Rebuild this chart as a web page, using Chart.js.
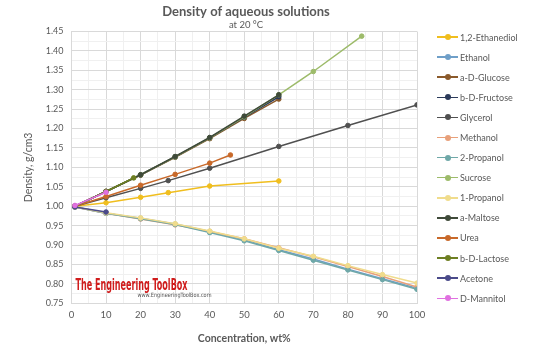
<!DOCTYPE html>
<html>
<head>
<meta charset="utf-8">
<script src="https://cdn.jsdelivr.net/npm/chart.js@4.4.1/dist/chart.umd.min.js"></script>
<style>
  html, body { margin: 0; padding: 0; background: #fff; }
  #wrap { position: relative; width: 540px; height: 353px; }
  #legend { position: absolute; left: 437px; top: 27px; font: 9px Lato, "Open Sans", sans-serif; color: #595959; }
  .item { height: 20.1px; display: flex; align-items: center; white-space: nowrap; }
  .mk { position: relative; width: 21px; height: 1.5px; margin-right: 2px; }
  .mk i { position: absolute; left: 8px; top: -2.25px; width: 6px; height: 6px; border-radius: 50%; }
</style>
</head>
<body>
<div id="wrap">
  <canvas id="densityChart" width="540" height="353"></canvas>
  <div id="legend"></div>
</div>
<script>
    // concentrations (wt%) and densities (g/cm3)
    const alcConc      = [1, 10, 20, 30, 40, 50, 60, 70, 80, 90, 100];
    const ethanol      = [0.998, 0.982, 0.969, 0.954, 0.935, 0.914, 0.888, 0.864, 0.838, 0.813, 0.789];
    const methanol     = [0.998, 0.982, 0.967, 0.952, 0.935, 0.916, 0.893, 0.870, 0.845, 0.819, 0.792];
    const propanol2    = [0.998, 0.982, 0.968, 0.953, 0.932, 0.911, 0.886, 0.861, 0.836, 0.811, 0.786];
    const propanol1    = [0.998, 0.983, 0.970, 0.955, 0.936, 0.916, 0.892, 0.871, 0.847, 0.824, 0.802];

    const sugarConc    = [1, 10, 20, 30, 40, 50, 60];
    const glucose      = [1.000, 1.038, 1.080, 1.126, 1.174, 1.226, 1.276];
    const fructose     = [1.000, 1.038, 1.081, 1.127, 1.176, 1.229, 1.282];
    const maltose      = [1.000, 1.038, 1.081, 1.128, 1.177, 1.232, 1.287];

    const sucroseConc  = [1, 10, 20, 30, 40, 50, 60, 70, 84];
    const sucrose      = [1.000, 1.038, 1.081, 1.127, 1.176, 1.230, 1.287, 1.347, 1.438];

    const lactoseConc  = [1, 10, 18];
    const lactose      = [1.000, 1.038, 1.073];

    const glycerolConc = [1, 10, 20, 28, 40, 60, 80, 100];
    const glycerol     = [1.000, 1.022, 1.046, 1.066, 1.098, 1.154, 1.208, 1.261];

    const ethanediolConc = [1, 10, 20, 28, 40, 60];
    const ethanediol     = [1.000, 1.009, 1.023, 1.035, 1.052, 1.065];

    const ureaConc     = [1, 10, 20, 30, 40, 46];
    const urea         = [1.000, 1.025, 1.054, 1.082, 1.111, 1.132];

    const shortConc    = [1, 10];
    const acetone      = [0.998, 0.985];
    const mannitol     = [1.002, 1.036];

    const series = [
        { name: '1,2-Ethanediol', xs: ethanediolConc, ys: ethanediol, color: '#f0be1e' },
        { name: 'Ethanol',        xs: alcConc,        ys: ethanol,    color: '#6f9fc8' },
        { name: 'a-D-Glucose',    xs: sugarConc,      ys: glucose,    color: '#8b5a2b' },
        { name: 'b-D-Fructose',   xs: sugarConc,      ys: fructose,   color: '#2b3a5a' },
        { name: 'Glycerol',       xs: glycerolConc,   ys: glycerol,   color: '#505050' },
        { name: 'Methanol',       xs: alcConc,        ys: methanol,   color: '#e8a07a' },
        { name: '2-Propanol',     xs: alcConc,        ys: propanol2,  color: '#6fa8a8' },
        { name: 'Sucrose',        xs: sucroseConc,    ys: sucrose,    color: '#9dbb6a' },
        { name: '1-Propanol',     xs: alcConc,        ys: propanol1,  color: '#f0dc8c' },
        { name: 'a-Maltose',      xs: sugarConc,      ys: maltose,    color: '#3f4a3a' },
        { name: 'Urea',           xs: ureaConc,       ys: urea,       color: '#c8692a' },
        { name: 'b-D-Lactose',    xs: lactoseConc,    ys: lactose,    color: '#6e7f22' },
        { name: 'Acetone',        xs: shortConc,      ys: acetone,    color: '#4a4a8a' },
        { name: 'D-Mannitol',     xs: shortConc,      ys: mannitol,   color: '#e070e0' }
    ];

    const fontFam = 'Lato, "Open Sans", sans-serif';
    Chart.defaults.font.family = fontFam;
    Chart.defaults.color = '#595959';

    const datasets = series.map((s, i) => ({
        label: s.name,
        data: s.xs.map((x, j) => ({ x: x, y: s.ys[j] })),
        borderColor: s.color,
        backgroundColor: s.color,
        pointBackgroundColor: s.color,
        pointBorderColor: s.color,
        borderWidth: 1.5,
        pointRadius: 2.3,
        pointBorderWidth: 1,
        order: series.length - i
    }));

    // red site watermark in the lower left of the plot
    const watermark = {
        id: 'watermark',
        beforeDatasetsDraw(chart) {
            const a = chart.chartArea;
            const ctx = chart.ctx;
            ctx.save();
            ctx.textBaseline = 'alphabetic';
            ctx.fillStyle = '#d01c1c';
            ctx.font = 'bold 16px "Liberation Sans Narrow", "DejaVu Sans Condensed", sans-serif';
            ctx.fillText('The Engineering ToolBox', a.left + 4, a.bottom - 13, 112);
            ctx.fillStyle = '#555';
            ctx.font = '6px "DejaVu Sans Condensed", sans-serif';
            ctx.fillText('www.EngineeringToolBox.com', a.left + 66, a.bottom - 6, 74);
            ctx.restore();
        }
    };

    const gridColor = ctx => (ctx.tick && ctx.tick.major) ? '#d9d9d9' : '#f0f0f0';

    const chart = new Chart(document.getElementById('densityChart'), {
        type: 'line',
        data: { datasets: datasets },
        plugins: [watermark],
        options: {
            responsive: false,
            animation: false,
            layout: { padding: { left: 0, right: 48, top: 0, bottom: 0 } },
            plugins: {
                legend: { display: false },
                tooltip: { enabled: false },
                title: {
                    display: true,
                    text: 'Density of aqueous solutions',
                    font: { size: 13, weight: 'bold' },
                    color: '#595959',
                    padding: { top: 4, bottom: 0 }
                },
                subtitle: {
                    display: true,
                    text: 'at 20 °C',
                    font: { size: 9.5 },
                    color: '#595959',
                    padding: { top: 0, bottom: 0.5 }
                }
            },
            scales: {
                x: {
                    type: 'linear',
                    min: 0,
                    max: 100,
                    afterFit: s => { s.height = 49.7; },
                    afterTickToLabelConversion: s => { s.ticks.forEach(t => { t.major = t.value % 10 === 0; }); },
                    ticks: {
                        stepSize: 5,
                        autoSkip: false,
                        maxRotation: 0,
                        padding: 6,
                        font: { size: 9.5 },
                        callback: v => (v % 10 === 0 ? v : '')
                    },
                    grid: { color: gridColor, drawTicks: false },
                    border: { color: '#d9d9d9' },
                    title: {
                        display: true,
                        text: 'Concentration, wt%',
                        font: { size: 10.5, weight: 'bold' },
                        color: '#595959',
                        padding: { top: 0, bottom: 8 }
                    }
                },
                y: {
                    min: 0.75,
                    max: 1.45,
                    afterFit: s => { s.width = 71.5; },
                    afterTickToLabelConversion: s => { s.ticks.forEach(t => { t.major = Math.round(t.value * 1000) % 50 === 0; }); },
                    ticks: {
                        stepSize: 0.025,
                        autoSkip: false,
                        padding: 8,
                        font: { size: 9 },
                        callback: v => (Math.round(v * 1000) % 50 === 0 ? v.toFixed(2) : '')
                    },
                    grid: { color: gridColor, drawTicks: false },
                    border: { color: '#d9d9d9' },
                    title: {
                        display: true,
                        text: 'Density, g/cm3',
                        font: { size: 10.5 },
                        color: '#595959',
                        padding: { top: 22, bottom: 0 }
                    }
                },
                // empty right-hand box that reserves room for the legend column
                legendSpace: {
                    position: 'right',
                    min: 0,
                    max: 1,
                    afterFit: s => { s.width = 75; },
                    ticks: { display: false },
                    grid: { display: false, drawTicks: false },
                    border: { display: false }
                }
            }
        }
    });

    // legend built from the chart's datasets
    const legendEl = document.getElementById('legend');
    chart.data.datasets.forEach(ds => {
        const row = document.createElement('div');
        row.className = 'item';
        row.innerHTML = '<span class="mk" style="background:' + ds.borderColor + '"><i style="background:' + ds.borderColor + '"></i></span>' + ds.label;
        legendEl.appendChild(row);
    });
</script>
</body>
</html>
